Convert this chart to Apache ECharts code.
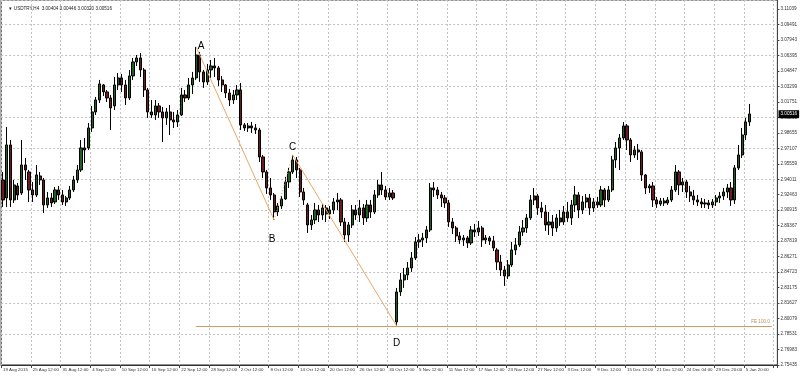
<!DOCTYPE html>
<html><head><meta charset="utf-8">
<script src="https://cdn.jsdelivr.net/npm/echarts@6/dist/echarts.min.js"></script>
<style>html,body{margin:0;padding:0;background:#fff}#c{width:800px;height:376px}</style>
</head><body><div id="c"></div>
<script>
const symbolName = 'USDTRY,H4';
const headerQuote = '3.00404 3.00446 3.00320 3.00516';
const lastPrice = 3.00516;
const fiboLabel = 'FE 100.0';
const tickLabels = ['19 Aug 2015','25 Aug 12:00','31 Aug 12:00','4 Sep 12:00','10 Sep 12:00','16 Sep 12:00','22 Sep 12:00','28 Sep 12:00','2 Oct 12:00','8 Oct 12:00','14 Oct 12:00','20 Oct 12:00','26 Oct 12:00','30 Oct 12:00','5 Nov 12:00','11 Nov 12:00','17 Nov 12:00','23 Nov 12:00','27 Nov 12:00','3 Dec 12:00','9 Dec 12:00','15 Dec 12:00','21 Dec 12:00','24 Dec 04:00','29 Dec 20:00','5 Jan 20:00'];
const yMin = 2.75435, yMax = 3.11935, yStep = 0.01548;
const slotCount = 209;
// [open, close, low, high]
const ohlc = [
[2.9394,2.9194,2.9124,2.9474],[2.9214,2.9744,2.9124,2.9924],[2.9744,2.9194,2.9124,2.9794],[2.9194,2.9344,2.9164,2.9394],
[2.9334,2.9244,2.9194,2.9364],[2.9264,2.9544,2.9244,2.9794],[2.9544,2.9494,2.9394,2.9614],[2.9474,2.9294,2.9174,2.9494],
[2.9294,2.9244,2.9174,2.9374],[2.9244,2.9444,2.9224,2.9544],[2.9434,2.9394,2.9344,2.9474],[2.9394,2.9144,2.9064,2.9414],
[2.9144,2.9214,2.9114,2.9274],[2.9214,2.9164,2.9124,2.9264],[2.9174,2.9294,2.9154,2.9324],[2.9294,2.9244,2.9194,2.9334],
[2.9244,2.9174,2.9144,2.9294],[2.9174,2.9214,2.9134,2.9234],[2.9214,2.9294,2.9194,2.9334],[2.9294,2.9394,2.9274,2.9434],
[2.9394,2.9494,2.9364,2.9544],[2.9494,2.9714,2.9474,2.9794],[2.9714,2.9694,2.9564,2.9814],[2.9714,2.9914,2.9694,2.9964],
[2.9914,3.0074,2.9874,3.0134],[3.0074,3.0194,3.0044,3.0224],[3.0194,3.0354,3.0164,3.0394],[3.0344,3.0274,3.0234,3.0354],
[3.0274,3.0214,3.0174,3.0294],[3.0214,3.0114,2.9894,3.0244],[3.0134,3.0344,3.0094,3.0424],[3.0344,3.0414,3.0294,3.0464],
[3.0414,3.0344,3.0274,3.0454],[3.0344,3.0214,3.0144,3.0394],[3.0214,3.0434,3.0194,3.0494],[3.0434,3.0574,3.0394,3.0614],
[3.0574,3.0614,3.0534,3.0644],[3.0614,3.0494,3.0424,3.0664],[3.0494,3.0294,3.0224,3.0514],[3.0294,3.0074,3.0014,3.0314],
[3.0074,3.0044,3.0014,3.0194],[3.0044,3.0134,2.9994,3.0194],[3.0134,3.0074,3.0014,3.0164],[3.0074,3.0014,2.9774,3.0124],
[3.0014,3.0074,2.9944,3.0114],[3.0074,2.9994,2.9844,3.0144],[2.9994,2.9974,2.9914,3.0074],[2.9974,3.0044,2.9924,3.0094],
[3.0044,3.0244,3.0034,3.0314],[3.0244,3.0214,3.0174,3.0294],[3.0214,3.0344,3.0194,3.0414],[3.0344,3.0414,3.0254,3.0474],
[3.0414,3.0644,3.0394,3.0724],[3.0644,3.0474,3.0374,3.0674],[3.0474,3.0374,3.0314,3.0494],[3.0374,3.0494,3.0344,3.0554],
[3.0494,3.0534,3.0414,3.0594],[3.0534,3.0514,3.0424,3.0614],[3.0514,3.0394,3.0334,3.0534],[3.0394,3.0344,3.0274,3.0434],
[3.0344,3.0264,3.0214,3.0354],[3.0264,3.0194,3.0134,3.0304],[3.0194,3.0244,3.0154,3.0294],[3.0244,3.0294,3.0194,3.0344],
[3.0294,2.9944,2.9894,3.0364],[2.9944,2.9914,2.9884,2.9964],[2.9914,2.9934,2.9874,2.9964],[2.9934,2.9914,2.9864,2.9974],
[2.9914,2.9894,2.9854,2.9954],[2.9894,2.9624,2.9574,2.9914],[2.9624,2.9474,2.9414,2.9644],[2.9474,2.9314,2.9254,2.9494],
[2.9314,2.9244,2.9194,2.9414],[2.9244,2.9074,2.8994,2.9264],[2.9074,2.9134,2.9034,2.9164],[2.9134,2.9204,2.9104,2.9234],
[2.9204,2.9374,2.9194,2.9424],[2.9374,2.9474,2.9314,2.9514],[2.9474,2.9594,2.9454,2.9644],[2.9594,2.9494,2.9414,2.9624],
[2.9494,2.9274,2.9224,2.9514],[2.9274,2.9194,2.9144,2.9314],[2.9144,2.8944,2.8864,2.9164],[2.8944,2.8994,2.8894,2.9044],
[2.8994,2.9094,2.8954,2.9164],[2.9094,2.9044,2.8974,2.9144],[2.9044,2.9114,2.8994,2.9154],[2.9114,2.9054,2.8974,2.9144],
[2.9054,2.9094,2.9004,2.9134],[2.9094,2.9174,2.9054,2.9214],[2.9174,2.9194,2.9094,2.9264],[2.9194,2.8974,2.8934,2.9214],
[2.8974,2.8844,2.8774,2.9014],[2.8844,2.8944,2.8774,2.8974],[2.8944,2.9094,2.8914,2.9144],[2.9094,2.9044,2.8994,2.9144],
[2.9044,2.9114,2.8974,2.9194],[2.9114,2.9014,2.8944,2.9154],[2.9014,2.9144,2.8974,2.9194],[2.9144,2.9074,2.9014,2.9194],
[2.9074,2.9244,2.9054,2.9294],[2.9244,2.9344,2.9214,2.9394],[2.9344,2.9294,2.9244,2.9474],[2.9294,2.9224,2.9194,2.9334],
[2.9224,2.9264,2.9194,2.9314],[2.9264,2.9214,2.9194,2.9294],[2.7974,2.8274,2.7934,2.8314],[2.8274,2.8394,2.8234,2.8464],
[2.8394,2.8444,2.8314,2.8514],[2.8444,2.8514,2.8394,2.8574],[2.8514,2.8614,2.8474,2.8674],[2.8614,2.8774,2.8594,2.8824],
[2.8774,2.8794,2.8714,2.8854],[2.8794,2.8814,2.8724,2.8864],[2.8814,2.8894,2.8764,2.8934],[2.8894,2.9314,2.8874,2.9364],
[2.9314,2.9294,2.9224,2.9374],[2.9294,2.9244,2.9204,2.9324],[2.9244,2.9214,2.9124,2.9274],[2.9214,2.9164,2.9114,2.9244],
[2.9164,2.8974,2.8924,2.9194],[2.8974,2.8914,2.8854,2.9014],[2.8914,2.8834,2.8774,2.8934],[2.8834,2.8794,2.8754,2.8874],
[2.8794,2.8814,2.8734,2.8844],[2.8814,2.8764,2.8714,2.8834],[2.8764,2.8894,2.8744,2.8934],[2.8894,2.8874,2.8824,2.8954],
[2.8874,2.8914,2.8834,2.8984],[2.8914,2.8794,2.8724,2.8934],[2.8794,2.8814,2.8754,2.8844],[2.8814,2.8784,2.8744,2.8834],
[2.8784,2.8714,2.8684,2.8834],[2.8694,2.8574,2.8494,2.8714],[2.8574,2.8494,2.8434,2.8644],[2.8494,2.8434,2.8334,2.8534],
[2.8434,2.8544,2.8404,2.8594],[2.8544,2.8694,2.8524,2.8774],[2.8694,2.8744,2.8644,2.8814],[2.8744,2.8874,2.8724,2.8934],
[2.8874,2.8914,2.8834,2.8994],[2.8914,2.9014,2.8864,2.9054],[2.9014,2.9194,2.8994,2.9244],[2.9194,2.9234,2.9144,2.9314],
[2.9234,2.9114,2.9044,2.9254],[2.9114,2.9074,2.9014,2.9174],[2.9074,2.8944,2.8884,2.9144],[2.8944,2.8974,2.8844,2.9074],
[2.8974,2.8914,2.8834,2.9044],[2.8914,2.9014,2.8874,2.9054],[2.9014,2.8974,2.8934,2.9094],[2.8974,2.9074,2.8944,2.9134],
[2.9074,2.9014,2.8974,2.9174],[2.9014,2.9144,2.8944,2.9194],[2.9144,2.9244,2.9074,2.9334],[2.9244,2.9094,2.9014,2.9274],
[2.9094,2.9174,2.9054,2.9234],[2.9174,2.9214,2.9114,2.9254],[2.9214,2.9114,2.9044,2.9254],[2.9114,2.9174,2.9074,2.9214],
[2.9174,2.9144,2.9114,2.9224],[2.9144,2.9294,2.9124,2.9334],[2.9294,2.9194,2.9124,2.9314],[2.9194,2.9294,2.9174,2.9334],
[2.9294,2.9594,2.9274,2.9634],[2.9594,2.9714,2.9514,2.9774],[2.9714,2.9814,2.9494,2.9854],[2.9814,2.9934,2.9794,2.9974],
[2.9934,2.9794,2.9694,2.9954],[2.9794,2.9644,2.9574,2.9814],[2.9644,2.9694,2.9614,2.9734],[2.9694,2.9674,2.9594,2.9754],
[2.9674,2.9444,2.9384,2.9694],[2.9444,2.9314,2.9254,2.9454],[2.9314,2.9334,2.9264,2.9354],[2.9334,2.9194,2.9124,2.9374],
[2.9194,2.9154,2.9114,2.9224],[2.9154,2.9184,2.9134,2.9214],[2.9184,2.9164,2.9134,2.9214],[2.9164,2.9194,2.9144,2.9224],
[2.9194,2.9294,2.9174,2.9334],[2.9294,2.9474,2.9274,2.9544],[2.9474,2.9344,2.9244,2.9494],[2.9344,2.9374,2.9274,2.9414],
[2.9374,2.9274,2.9214,2.9394],[2.9274,2.9234,2.9174,2.9334],[2.9234,2.9194,2.9144,2.9294],[2.9194,2.9174,2.9134,2.9244],
[2.9174,2.9154,2.9114,2.9214],[2.9154,2.9164,2.9114,2.9204],[2.9164,2.9144,2.9104,2.9194],[2.9144,2.9174,2.9114,2.9204],
[2.9174,2.9214,2.9134,2.9244],[2.9214,2.9234,2.9164,2.9274],[2.9234,2.9274,2.9194,2.9314],[2.9274,2.9314,2.9214,2.9354],
[2.9314,2.9194,2.9134,2.9374],[2.9194,2.9514,2.9154,2.9544],[2.9514,2.9644,2.9494,2.9744],[2.9644,2.9844,2.9614,2.9914],
[2.9844,2.9974,2.9794,3.0014],[2.9974,3.0054,2.9934,3.0154]
];
// wave points (candle indices)
const waveA = 52, waveB = 73, waveC = 78, waveD = 106;

const categories = Array.from({length: slotCount}, (_, i) => String(i));
const pA = ohlc[waveA][3], pB = ohlc[waveB][2], pC = ohlc[waveC][3], pD = ohlc[waveD][2];
const cat = i => categories[i];
const FONT = 'Liberation Sans';
const trendColor = '#eaa865';

const chart = echarts.init(document.getElementById('c'), null, {renderer: 'canvas'});
chart.setOption({
  animation: false,
  backgroundColor: '#fff',
  title: {
    text: '\u25BC ' + symbolName + '  ' + headerQuote,
    left: 3, top: 1,
    textStyle: {fontSize: 4.6, fontWeight: 'normal', color: '#222', fontFamily: FONT}
  },
  grid: {left: 0, right: 19, top: 0, bottom: 11, show: true, borderColor: '#222', borderWidth: 1, backgroundColor: '#fff'},
  xAxis: {
    type: 'category', data: categories, boundaryGap: true,
    axisLine: {show: true, lineStyle: {color: '#333'}},
    axisTick: {show: true, interval: 7, length: 3, lineStyle: {color: '#444'}},
    axisLabel: {interval: 7, fontSize: 4.4, color: '#333', align: 'left', margin: 3, fontFamily: FONT,
      formatter: (v, i) => tickLabels[i / 8] || ''},
    splitLine: {show: true, interval: 7, lineStyle: {color: '#c4c4c4', type: [2, 2], width: 1}}
  },
  yAxis: [{
    type: 'value', position: 'right', min: yMin, max: yMax, interval: yStep,
    axisLine: {show: true, lineStyle: {color: '#444'}},
    axisTick: {show: true, length: 2, lineStyle: {color: '#444'}},
    axisLabel: {fontSize: 4.6, color: '#333', margin: 3, fontFamily: FONT, showMaxLabel: false,
      formatter: v => v.toFixed(5)},
    splitLine: {show: false}
  }, {
    type: 'value', position: 'right', min: yMin, max: yMax, interval: yStep * 2,
    axisLine: {show: false}, axisTick: {show: false}, axisLabel: {show: false},
    splitLine: {show: true, lineStyle: {color: '#c4c4c4', type: [2, 2], width: 1}}
  }],
  series: [{
    type: 'candlestick',
    yAxisIndex: 0,
    data: ohlc,
    barWidth: 2.6,
    itemStyle: {color: '#1f5f1f', color0: '#6e1a1a', borderColor: '#000', borderColor0: '#000', borderWidth: 1},
    markLine: {
      symbol: ['none', 'none'], silent: true, animation: false,
      label: {show: false},
      data: [
        [{coord: [cat(slotCount - 3), lastPrice], lineStyle: {color: 'rgba(0,0,0,0)', width: 1, type: 'solid'},
          label: {show: true, position: 'end', formatter: lastPrice.toFixed(5), color: '#fff', backgroundColor: '#000',
            fontSize: 4.6, fontFamily: FONT, padding: [2, 2, 1, 2], distance: 3}},
         {coord: [cat(slotCount - 1), lastPrice]}],
        [{coord: [cat(waveA), pA], lineStyle: {color: trendColor, width: 1, type: 'solid'}}, {coord: [cat(waveB), pB]}],
        [{coord: [cat(waveB), pB], lineStyle: {color: trendColor, width: 1, type: [1, 2]}}, {coord: [cat(waveC), pC]}],
        [{coord: [cat(waveC), pC], lineStyle: {color: trendColor, width: 1, type: 'solid'}}, {coord: [cat(waveD), pD]}],
        [{coord: [cat(waveA), pD], lineStyle: {color: '#d09a5c', width: 1, type: 'solid'},
          label: {show: true, position: 'insideEndTop', formatter: fiboLabel, color: '#c08a50', fontSize: 4.6, fontFamily: FONT, distance: 2}},
         {coord: [cat(slotCount - 2), pD]}]
      ]
    },
    markPoint: {
      symbol: 'circle', symbolSize: 0, silent: true, animation: false,
      label: {show: true, color: '#000', fontSize: 10, fontFamily: FONT},
      data: [
        {coord: [cat(waveA), pA], label: {formatter: 'A', offset: [5, -1]}},
        {coord: [cat(waveB), pB], label: {formatter: 'B', offset: [-2, 19]}},
        {coord: [cat(waveC), pC], label: {formatter: 'C', offset: [0, -8]}},
        {coord: [cat(waveD), pD], label: {formatter: 'D', offset: [0, 17]}}
      ]
    }
  }]
});
</script>
</body></html>
